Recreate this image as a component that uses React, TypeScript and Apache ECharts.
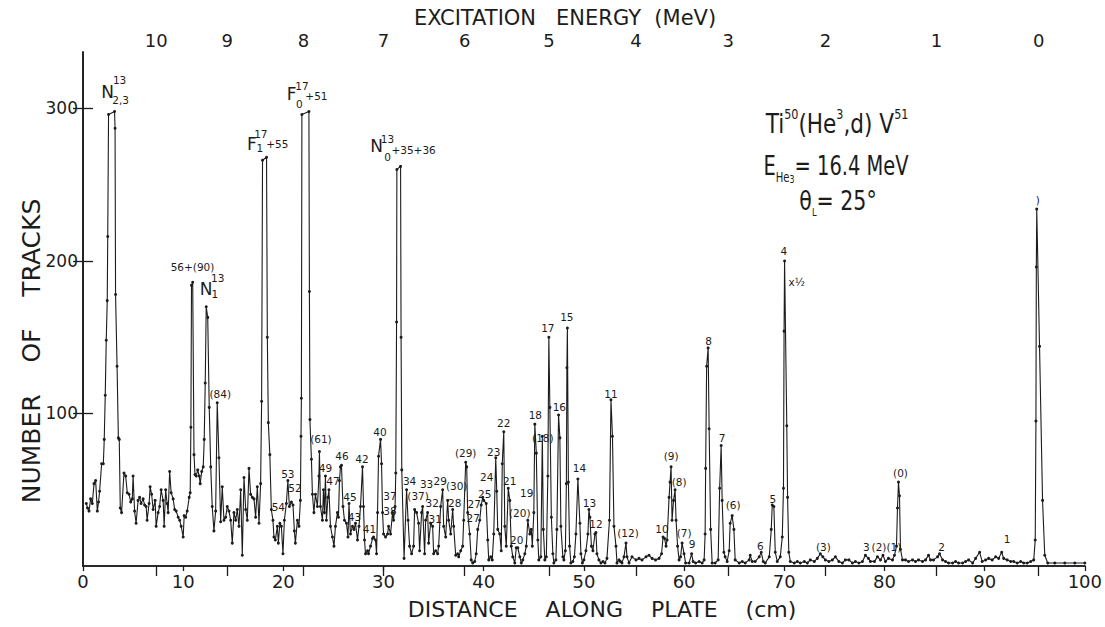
import React, { useEffect, useRef } from "react";
import * as echarts from "echarts";

// [distance along plate (cm), number of tracks]
const spectrumPoints: [number, number][] = [
  [0.33, 41], [0.45, 38], [0.6, 36], [0.76, 44], [0.93, 41], [1.1, 54], [1.26, 56], [1.43, 36], [1.55, 42],
  [1.66, 49], [1.86, 67], [2.03, 67], [2.12, 83], [2.22, 112], [2.32, 148], [2.42, 174], [2.47, 216],
  [2.55, 296], [3.15, 298], [3.2, 287], [3.25, 178], [3.4, 131], [3.53, 84], [3.62, 83], [3.72, 38], [3.85, 35],
  [4.09, 61], [4.26, 59], [4.42, 48], [4.6, 47], [4.76, 42], [4.92, 44], [5.0, 59], [5.15, 36], [5.3, 28],
  [5.5, 43], [5.65, 45], [5.8, 41], [6.0, 44], [6.15, 40], [6.3, 39], [6.4, 30], [6.6, 41], [6.7, 52],
  [6.85, 47], [7.0, 37], [7.2, 43], [7.3, 26], [7.5, 35], [7.65, 39], [7.8, 50], [8.0, 43], [8.1, 26],
  [8.25, 50], [8.4, 41], [8.5, 35], [8.65, 62], [8.8, 48], [9.0, 44], [9.15, 37], [9.3, 36], [9.5, 32],
  [9.65, 30], [9.8, 26], [10.0, 19], [10.1, 33], [10.25, 32], [10.4, 36], [10.6, 45], [10.7, 48], [10.77, 91],
  [10.83, 184], [10.95, 186], [11.08, 73], [11.18, 60], [11.3, 59], [11.45, 63], [11.6, 59], [11.7, 54],
  [11.85, 62], [12.0, 65], [12.1, 83], [12.2, 120], [12.3, 170], [12.45, 163], [12.6, 104], [12.75, 65],
  [12.9, 39], [13.07, 23], [13.24, 36], [13.4, 107], [13.57, 71], [13.74, 29], [13.9, 52], [14.07, 30],
  [14.24, 32], [14.4, 39], [14.57, 36], [14.74, 30], [14.9, 15], [15.07, 35], [15.24, 30], [15.4, 37],
  [15.57, 26], [15.74, 50], [15.9, 7], [16.07, 58], [16.24, 37], [16.4, 30], [16.57, 64], [16.73, 47],
  [16.9, 45], [17.07, 44], [17.23, 32], [17.4, 52], [17.57, 28], [17.73, 54], [17.83, 108], [17.92, 266],
  [18.32, 268], [18.4, 150], [18.5, 94], [18.65, 73], [18.8, 37], [18.96, 30], [19.06, 19], [19.2, 17],
  [19.4, 26], [19.5, 15], [19.65, 28], [19.8, 26], [19.96, 8], [20.1, 30], [20.3, 41], [20.45, 56],
  [20.6, 39], [20.8, 42], [20.96, 40], [21.1, 23], [21.2, 15], [21.4, 30], [21.56, 26], [21.7, 43],
  [21.76, 85], [21.8, 110], [21.85, 296], [22.55, 298], [22.6, 180], [22.65, 96], [22.8, 70], [22.9, 47],
  [23.05, 35], [23.2, 47], [23.4, 39], [23.55, 59], [23.6, 75], [23.7, 39], [23.9, 30], [24.0, 50],
  [24.1, 35], [24.2, 59], [24.3, 30], [24.45, 45], [24.55, 50], [24.7, 26], [24.9, 19], [25.05, 13],
  [25.2, 26], [25.4, 35], [25.5, 32], [25.6, 56], [25.7, 65], [25.8, 66], [25.95, 39], [26.1, 30],
  [26.3, 28], [26.45, 19], [26.55, 41], [26.7, 21], [26.9, 26], [27.05, 24], [27.2, 28], [27.4, 17],
  [27.55, 26], [27.7, 39], [27.9, 65], [28.0, 39], [28.1, 17], [28.2, 8], [28.4, 10], [28.5, 8],
  [28.7, 13], [28.9, 18], [29.0, 19], [29.2, 17], [29.3, 8], [29.4, 35], [29.5, 72], [29.7, 83],
  [29.8, 67], [29.9, 35], [30.0, 21], [30.2, 19], [30.4, 21], [30.5, 26], [30.7, 21], [30.9, 35],
  [31.0, 30], [31.15, 39], [31.22, 61], [31.3, 160], [31.33, 260], [31.7, 262], [31.75, 150], [31.82, 63],
  [32.05, 5], [32.3, 50], [32.45, 30], [32.6, 13], [32.8, 8], [33.0, 13], [33.1, 37], [33.3, 35],
  [33.5, 28], [33.6, 10], [33.8, 35], [33.9, 39], [34.1, 8], [34.2, 30], [34.4, 35], [34.5, 15],
  [34.7, 28], [34.9, 26], [35.0, 8], [35.2, 10], [35.4, 8], [35.5, 13], [35.7, 39], [35.9, 50],
  [36.0, 26], [36.2, 19], [36.4, 43], [36.5, 30], [36.7, 21], [36.9, 37], [37.0, 26], [37.2, 7],
  [37.4, 8], [37.5, 6], [37.7, 10], [37.9, 13], [38.0, 30], [38.2, 68], [38.3, 65], [38.4, 35],
  [38.6, 21], [38.75, 4], [38.9, 2], [39.1, 3], [39.25, 8], [39.4, 24], [39.6, 30], [39.75, 40],
  [39.9, 45], [40.0, 43], [40.25, 41], [40.4, 17], [40.5, 4], [40.7, 6], [40.85, 4], [41.0, 21],
  [41.2, 71], [41.3, 49], [41.4, 24], [41.6, 21], [41.75, 10], [41.85, 67], [42.0, 88], [42.1, 26],
  [42.25, 13], [42.45, 51], [42.6, 43], [42.75, 13], [42.9, 6], [43.1, 2], [43.25, 12], [43.4, 12],
  [43.6, 6], [43.75, 2], [43.9, 4], [44.1, 8], [44.25, 13], [44.4, 30], [44.6, 21], [44.75, 24],
  [44.85, 13], [45.0, 35], [45.1, 93], [45.25, 74], [45.4, 17], [45.5, 4], [45.7, 6], [45.85, 85],
  [45.95, 24], [46.1, 4], [46.25, 6], [46.4, 59], [46.5, 150], [46.6, 104], [46.75, 32], [46.9, 8],
  [47.0, 2], [47.2, 4], [47.3, 24], [47.47, 99], [47.6, 84], [47.7, 26], [47.9, 6], [48.0, 4],
  [48.15, 10], [48.25, 54], [48.3, 130], [48.35, 156], [48.45, 55], [48.57, 13], [48.7, 2], [48.9, 3],
  [49.05, 6], [49.2, 21], [49.4, 57], [49.6, 28], [49.7, 8], [49.85, 2], [50.0, 4], [50.2, 10],
  [50.4, 21], [50.5, 37], [50.6, 32], [50.75, 13], [50.9, 10], [51.1, 21], [51.2, 22], [51.3, 8],
  [51.5, 4], [51.7, 2], [51.9, 3], [52.1, 2], [52.3, 5], [52.55, 30], [52.7, 109], [52.85, 85],
  [53.0, 26], [53.2, 13], [53.3, 2], [53.5, 4], [53.65, 3], [53.8, 2], [54.0, 6], [54.2, 15],
  [54.3, 6], [54.5, 2], [54.8, 6], [55.2, 4], [55.5, 5], [55.8, 4], [56.2, 6], [56.5, 7],
  [56.8, 5], [57.15, 4], [57.5, 5], [57.75, 8], [57.9, 19], [58.05, 18], [58.2, 13], [58.3, 17],
  [58.5, 45], [58.6, 55], [58.7, 65], [58.8, 30], [58.95, 43], [59.1, 50], [59.2, 30], [59.35, 13],
  [59.5, 4], [59.65, 6], [59.8, 15], [60.0, 8], [60.15, 2], [60.5, 2], [60.75, 8], [60.9, 3],
  [61.15, 2], [61.5, 3], [61.8, 2], [62.0, 4], [62.1, 21], [62.15, 64], [62.25, 131], [62.4, 143],
  [62.5, 90], [62.65, 24], [62.8, 2], [63.1, 2], [63.4, 4], [63.55, 51], [63.7, 79], [63.8, 43],
  [63.97, 9], [64.1, 6], [64.3, 3], [64.5, 10], [64.6, 28], [64.8, 33], [64.97, 24], [65.1, 4],
  [65.5, 2], [65.8, 3], [66.1, 2], [66.5, 4], [66.6, 7], [66.8, 3], [67.1, 3], [67.5, 6],
  [67.7, 9], [67.9, 3], [68.1, 2], [68.5, 6], [68.7, 24], [68.8, 40], [68.96, 39], [69.1, 9],
  [69.3, 3], [69.6, 6], [69.8, 19], [69.92, 51], [69.98, 154], [70.03, 200], [70.25, 92], [70.33, 45],
  [70.45, 9], [70.6, 3], [71.0, 2], [71.3, 3], [71.6, 2], [72.0, 3], [72.3, 2], [72.6, 4],
  [73.0, 3], [73.3, 5], [73.6, 8], [73.85, 6], [74.1, 4], [74.45, 3], [74.8, 4], [75.1, 6],
  [75.45, 3], [75.8, 2], [76.1, 4], [76.45, 4], [76.8, 2], [77.1, 3], [77.45, 2], [77.8, 3],
  [78.1, 7], [78.4, 5], [78.6, 3], [79.0, 3], [79.3, 6], [79.6, 4], [79.85, 7], [80.1, 3],
  [80.4, 5], [80.8, 4], [81.0, 7], [81.2, 13], [81.3, 38], [81.4, 55], [81.5, 46], [81.6, 11],
  [81.8, 4], [82.1, 4], [82.4, 3], [82.8, 4], [83.1, 3], [83.4, 4], [83.8, 3], [84.1, 4],
  [84.4, 7], [84.6, 4], [84.9, 4], [85.3, 6], [85.5, 8], [85.8, 4], [86.1, 3], [86.4, 2],
  [86.8, 2], [87.1, 3], [87.4, 2], [87.8, 2], [88.1, 3], [88.4, 4], [88.8, 2], [89.1, 5],
  [89.5, 9], [89.75, 3], [90.1, 4], [90.4, 5], [90.75, 4], [91.1, 6], [91.4, 5], [91.7, 9],
  [91.9, 5], [92.25, 4], [92.6, 3], [92.9, 3], [93.25, 2], [93.6, 3], [93.9, 2], [94.25, 2],
  [94.6, 3], [94.9, 4], [95.05, 17], [95.12, 95], [95.16, 196], [95.2, 234], [95.48, 144], [95.78, 43],
  [96.0, 7], [96.3, 2], [97.0, 2], [98.0, 2], [99.0, 2], [100.0, 2],
];

const distanceTicks = [0, 10, 20, 30, 40, 50, 60, 70, 80, 90, 100];
const countTicks = [100, 200, 300];
const energyLabels = [10, 9, 8, 7, 6, 5, 4, 3, 2, 1, 0];
const energyTickCm = [7.3, 14.4, 22.0, 30.0, 38.1, 46.5, 55.2, 64.4, 74.1, 85.2, 95.4];

// [text, cm, tracks]
const peakLabels: [string, number, number][] = [
  ["(84)", 13.7, 113], ["(61)", 23.75, 83], ["53", 20.45, 60], ["52", 21.15, 51], ["54", 19.5, 39],
  ["49", 24.2, 64], ["47", 24.95, 56], ["46", 25.85, 72], ["45", 26.65, 45], ["43", 27.1, 32],
  ["42", 27.85, 70], ["41", 28.6, 24], ["40", 29.65, 88], ["37", 30.65, 46], ["38", 30.65, 36],
  ["34", 32.6, 56], ["(37)", 33.45, 46], ["33", 34.3, 54], ["32", 34.85, 41], ["31", 35.15, 31],
  ["29", 35.65, 56], ["(30)", 37.3, 52.5], ["28", 37.1, 41], ["(29)", 38.2, 74], ["27", 39.05, 40.5],
  ["27", 38.95, 31.5], ["25", 40.1, 47], ["24", 40.3, 58.5], ["23", 41.0, 75], ["22", 42.0, 94],
  ["21", 42.6, 55.5], ["19", 44.3, 48], ["(20)", 43.6, 34.5], ["20", 43.3, 17], ["18", 45.15, 99],
  ["(18)", 45.9, 84], ["17", 46.4, 156], ["16", 47.55, 104.5], ["15", 48.3, 163.5], ["14", 49.55, 64],
  ["13", 50.55, 41], ["12", 51.2, 27.5], ["11", 52.7, 113], ["(12)", 54.4, 21.5], ["10", 57.8, 24],
  ["(9)", 58.7, 72], ["(8)", 59.5, 55], ["(7)", 60.0, 21.5], ["9", 60.8, 14.5], ["8", 62.45, 147.5],
  ["7", 63.8, 84], ["(6)", 64.9, 40], ["6", 67.6, 13], ["5", 68.85, 44], ["4", 69.95, 206.5],
  ["(3)", 73.9, 12.5], ["3", 78.2, 12.5], ["(2)(1)", 80.2, 12.5], ["(0)", 81.6, 61],
  ["2", 85.7, 12.7], ["1", 92.25, 17.7], [")", 95.3, 240], ["56+(90)", 10.93, 196],
  ["+55", 19.4, 276.4], ["+51", 23.3, 308], ["+35+36", 33.0, 272.5],
];
const halfScaleNote: [string, number, number][] = [["x½", 71.25, 186]];

const nuclideLetters: [string, number, number][] = [
  ["N", 2.45, 311], ["N", 12.3, 181.6], ["F", 16.85, 277], ["F", 20.82, 309.5], ["N", 29.3, 275.4],
];
const nuclideScripts: [string, number, number][] = [
  ["13", 3.65, 318.5], ["2,3", 3.75, 305.5], ["13", 13.45, 188.5], ["1", 13.15, 178.5],
  ["17", 17.75, 283.5], ["1", 17.65, 273.8], ["17", 21.85, 315], ["0", 21.6, 303],
  ["13", 30.4, 280], ["0", 30.4, 268],
];

const INK = "#1c1c1c";
const FONT = "DejaVu Sans";

function toItems(list: [string, number, number][]) {
  return list.map(([t, x, y]) => ({ name: t, value: [x, y] }));
}

function labelSeries(list: [string, number, number][], fontSize: number) {
  return {
    type: "scatter",
    data: toItems(list),
    symbol: "circle",
    symbolSize: 0,
    silent: true,
    z: 5,
    itemStyle: { color: INK, opacity: 0 },
    label: {
      show: true,
      position: [0, 0],
      align: "center",
      verticalAlign: "middle",
      formatter: "{b}",
      color: INK,
      fontFamily: FONT,
      fontSize,
      lineHeight: fontSize,
      textBorderWidth: 0,
      opacity: 1,
    },
  };
}

export default function App() {
  const ref = useRef<HTMLDivElement>(null);
  useEffect(() => {
    if (!ref.current) return;
    const chart = echarts.init(ref.current, null, { renderer: "svg" });
    const axisLine = { show: true, lineStyle: { color: INK, width: 1.6 } };
    const option: any = {
      animation: false,
      backgroundColor: "#ffffff",
      textStyle: { fontFamily: FONT, color: INK },
      grid: { left: 83, right: 20, top: 52, bottom: 61, containLabel: false },
      xAxis: [
        {
          type: "value",
          position: "bottom",
          min: 0,
          max: 100,
          interval: 10,
          axisLine,
          axisTick: { show: true, inside: false, length: 5, customValues: distanceTicks, lineStyle: { color: INK, width: 1.3 } },
          axisLabel: { color: INK, fontFamily: FONT, fontSize: 18, margin: 6, customValues: distanceTicks },
          splitLine: { show: false },
        },
        {
          type: "value",
          position: "top",
          min: 0,
          max: 100,
          axisLine,
          axisTick: { show: true, inside: true, length: 10, customValues: energyTickCm, lineStyle: { color: INK, width: 1.3 } },
          axisLabel: {
            show: true,
            color: INK,
            fontFamily: FONT,
            fontSize: 18,
            margin: 3,
            customValues: energyTickCm,
            formatter: (v: number) => {
              const i = energyTickCm.findIndex((c) => Math.abs(c - v) < 1e-6);
              return i >= 0 ? String(energyLabels[i]) : "";
            },
          },
          splitLine: { show: false },
        },
      ],
      yAxis: [
        {
          type: "value",
          position: "left",
          min: 0,
          max: 337,
          axisLine,
          axisTick: { show: true, inside: true, length: 10, customValues: countTicks, lineStyle: { color: INK, width: 1.3 } },
          axisLabel: { color: INK, fontFamily: FONT, fontSize: 17, margin: 5, customValues: countTicks },
          splitLine: { show: false },
        },
        {
          type: "value",
          position: "right",
          min: 0,
          max: 337,
          axisLine,
          axisTick: { show: true, inside: true, length: 10, customValues: countTicks, lineStyle: { color: INK, width: 1.3 } },
          axisLabel: { show: false },
          splitLine: { show: false },
        },
      ],
      series: [
        {
          type: "line",
          data: spectrumPoints,
          symbol: "circle",
          symbolSize: 3,
          showSymbol: true,
          showAllSymbol: true,
          lineStyle: { color: INK, width: 1.1 },
          itemStyle: { color: INK },
          silent: true,
          z: 3,
        },
        labelSeries(peakLabels, 10.5),
        labelSeries(halfScaleNote, 10.5),
        labelSeries(nuclideLetters, 17),
        labelSeries(nuclideScripts, 10.5),
      ],
      graphic: [
        {
          type: "text",
          x: 565,
          y: 18,
          style: {
            text: "EXCITATION   ENERGY  (MeV)",
            font: `21px "${FONT}"`,
            align: "center",
            verticalAlign: "middle",
            fill: INK,
          },
        },
        {
          type: "text",
          x: 602,
          y: 609,
          style: {
            text: "DISTANCE    ALONG    PLATE    (cm)",
            font: `22px "${FONT}"`,
            align: "center",
            verticalAlign: "middle",
            fill: INK,
          },
        },
        {
          type: "text",
          x: 31,
          y: 351,
          rotation: Math.PI / 2,
          style: {
            text: "NUMBER    OF    TRACKS",
            font: `25px "${FONT}"`,
            align: "center",
            verticalAlign: "middle",
            fill: INK,
          },
        },
        {
          type: "text",
          x: 837,
          y: 124,
          scaleX: 0.8,
          style: {
            text: "{m|Ti}{p|50}{m|(He}{p|3}{m|,d) V}{p|51}",
            align: "center",
            verticalAlign: "middle",
            fill: INK,
            rich: {
              m: { fontFamily: FONT, fontSize: 27, lineHeight: 34, fill: INK },
              p: { fontFamily: FONT, fontSize: 14, lineHeight: 16, verticalAlign: "top", fill: INK },
            },
          },
        },
        {
          type: "text",
          x: 836,
          y: 166,
          scaleX: 0.72,
          style: {
            text: "{m|E}{s|He}{q|3}{m|= 16.4 MeV}",
            align: "center",
            verticalAlign: "middle",
            fill: INK,
            rich: {
              m: { fontFamily: FONT, fontSize: 27, lineHeight: 36, fill: INK },
              s: { fontFamily: FONT, fontSize: 14, lineHeight: 14, verticalAlign: "bottom", fill: INK },
              q: { fontFamily: FONT, fontSize: 11, lineHeight: 26, verticalAlign: "bottom", fill: INK },
            },
          },
        },
        {
          type: "text",
          x: 838,
          y: 201,
          scaleX: 0.76,
          style: {
            text: "{m|θ}{s|L}{m|= 25°}",
            align: "center",
            verticalAlign: "middle",
            fill: INK,
            rich: {
              m: { fontFamily: FONT, fontSize: 27, lineHeight: 34, fill: INK },
              s: { fontFamily: FONT, fontSize: 11, lineHeight: 12, verticalAlign: "bottom", fill: INK },
            },
          },
        },
      ],
    };
    chart.setOption(option);
    return () => chart.dispose();
  }, []);
  return (
    <div
      ref={ref}
      style={{ position: "absolute", left: 0, top: 0, width: 1105, height: 627, background: "#fff" }}
    />
  );
}
